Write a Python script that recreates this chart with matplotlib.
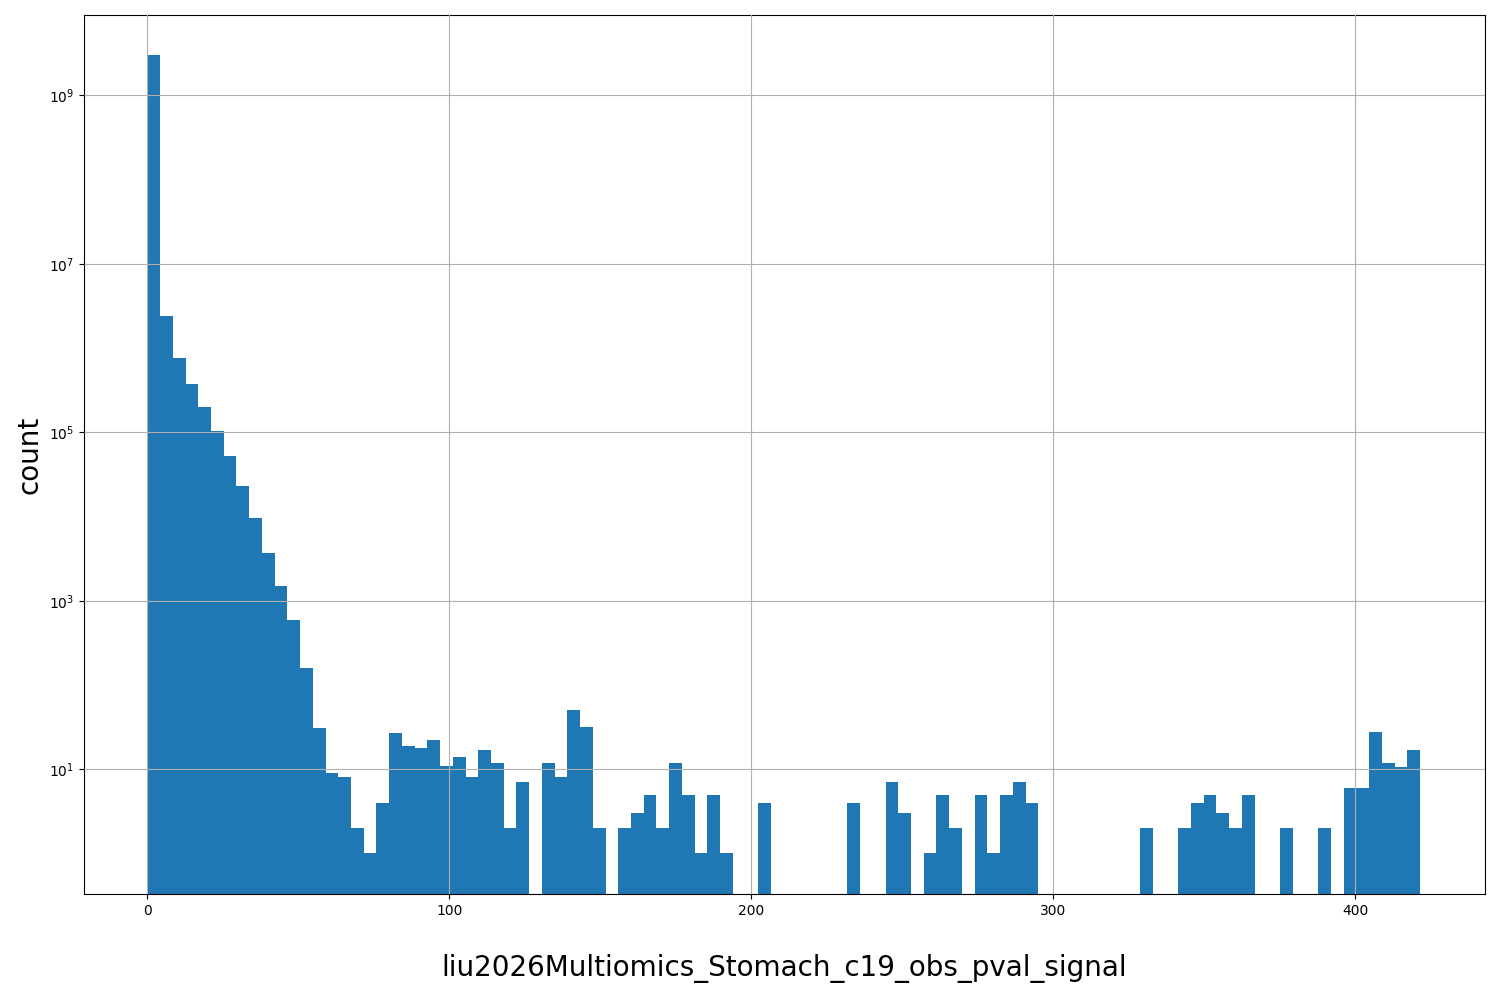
import numpy as np
import matplotlib
matplotlib.use("Agg")
import matplotlib.pyplot as plt

x_max = 421.5
n_bins = 100
counts = [3e9, 2.4e6, 7.6e5, 3.7e5, 2e5, 1.05e5, 5.3e4, 2.3e4, 9.5e3, 3.7e3,
          1.5e3, 590, 160, 31, 9, 8, 2, 1, 4, 27,
          19, 18, 22, 11, 14, 8, 17, 12, 2, 7,
          0, 12, 8, 50, 32, 2, 0, 2, 3, 5,
          2, 12, 5, 1, 5, 1, 0, 0, 4, 0,
          0, 0, 0, 0, 0, 4, 0, 0, 7, 3,
          0, 1, 5, 2, 0, 5, 1, 5, 7, 4,
          0, 0, 0, 0, 0, 0, 0, 0, 2, 0,
          0, 2, 4, 5, 3, 2, 5, 0, 0, 2,
          0, 0, 2, 0, 6, 6, 28, 12, 10.5, 17]
label = "liu2026Multiomics_Stomach_c19_obs_pval_signal"

edges = np.linspace(0, x_max, n_bins + 1)
centers = (edges[:-1] + edges[1:]) / 2

fig, ax = plt.subplots(figsize=(15, 10), dpi=100)
ax.hist(centers, bins=edges, weights=counts, color="#1f77b4", log=True)
ax.set_ylim(0.33, 9e9)
ax.set_xlim(-21, 443)
ax.grid(True)
ax.set_axisbelow(False)
ax.set_xlabel(label, fontsize=20, labelpad=26)
ax.set_ylabel("count", fontsize=20)
plt.subplots_adjust(left=0.056, right=0.99, top=0.985, bottom=0.106)
fig.savefig("out.png")
